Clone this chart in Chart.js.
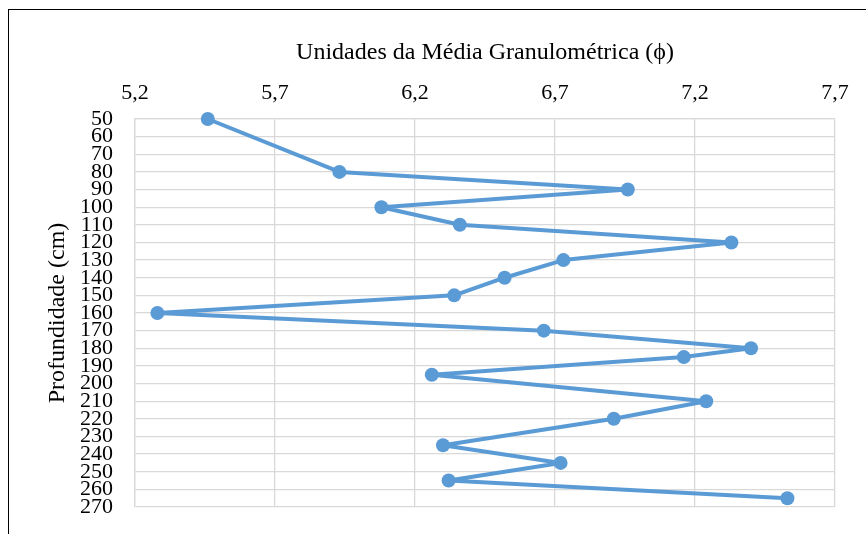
<!DOCTYPE html>
<html>
<head>
<meta charset="utf-8">
<script src="https://cdn.jsdelivr.net/npm/chart.js@4/dist/chart.umd.min.js"></script>
<style>
  html, body { margin: 0; padding: 0; background: #fff; overflow: hidden; }
  #frame { position: absolute; left: 8px; top: 9px; width: 1000px; height: 1000px;
           border-left: 1px solid #000; border-top: 1px solid #000; }
  #chart { position: absolute; left: 0; top: 0; }
</style>
</head>
<body>
<div id="frame"></div>
<canvas id="chart" width="866" height="534"></canvas>
<script>
// depth (cm) and mean grain size (phi)
let depths = [50, 80, 90, 100, 110, 120, 130, 140, 150, 160, 170, 180, 185, 195, 210, 220, 235, 245, 255, 265]
let meanPhi = [5.46, 5.93, 6.96, 6.08, 6.36, 7.33, 6.73, 6.52, 6.34, 5.28, 6.66, 7.40, 7.16, 6.26, 7.24, 6.91, 6.30, 6.72, 6.32, 7.53]

let xTicks = [5.2, 5.7, 6.2, 6.7, 7.2, 7.7]
let yTicks = [50, 60, 70, 80, 90, 100, 110, 120, 130, 140, 150, 160, 170, 180, 190, 200, 210, 220, 230, 240, 250, 260, 270]

let points = depths.map((d, i) => ({x: meanPhi[i], y: d}))

let blue = '#5b9bd5'
let grid = '#d9d9d9'
let serif = "'Liberation Serif', 'DejaVu Serif', serif"

let ctx = document.querySelector('#chart')

let chart = new Chart(ctx, {
    type: 'scatter',
    data: {
        datasets: [{
            data: points,
            showLine: true,
            clip: false,
            borderColor: blue,
            backgroundColor: blue,
            borderWidth: 4,
            borderJoinStyle: 'round',
            borderCapStyle: 'round',
            pointRadius: 7,
            pointBorderWidth: 0,
            tension: 0
        }]
    },
    options: {
        responsive: false,
        animation: false,
        layout: {padding: {left: 0, top: 0, right: 31, bottom: 27}},
        plugins: {legend: {display: false}, tooltip: {enabled: false}},
        scales: {
            x: {
                position: 'top',
                min: 5.2,
                max: 7.7,
                afterBuildTicks: s => { s.ticks = xTicks.map(v => ({value: v})) },
                afterFit: s => { s.height = 119 },
                ticks: {
                    color: '#000',
                    padding: 13,
                    font: {family: serif, size: 22},
                    callback: v => v.toFixed(1).replace('.', ',')
                },
                grid: {color: grid, lineWidth: 1.3, drawTicks: false},
                border: {color: grid, width: 1.3},
                title: {
                    display: true,
                    text: 'Unidades da Média Granulométrica (ϕ)',
                    color: '#000',
                    font: {family: serif, size: 24},
                    padding: {top: 38, bottom: 0}
                }
            },
            y: {
                reverse: true,
                min: 50,
                max: 270,
                afterBuildTicks: s => { s.ticks = yTicks.map(v => ({value: v})) },
                afterFit: s => {
                    s.width = 135
                    s.paddingTop = 0
                    s.paddingBottom = 0
                },
                ticks: {
                    color: '#000',
                    padding: 22,
                    autoSkip: false,
                    font: {family: serif, size: 22}
                },
                grid: {color: grid, lineWidth: 1.3, drawTicks: false},
                border: {color: grid, width: 1.3},
                title: {
                    display: true,
                    text: 'Profundidade (cm)',
                    color: '#000',
                    font: {family: serif, size: 24},
                    padding: {top: 43, bottom: 0}
                }
            }
        }
    }
})
</script>
</body>
</html>
